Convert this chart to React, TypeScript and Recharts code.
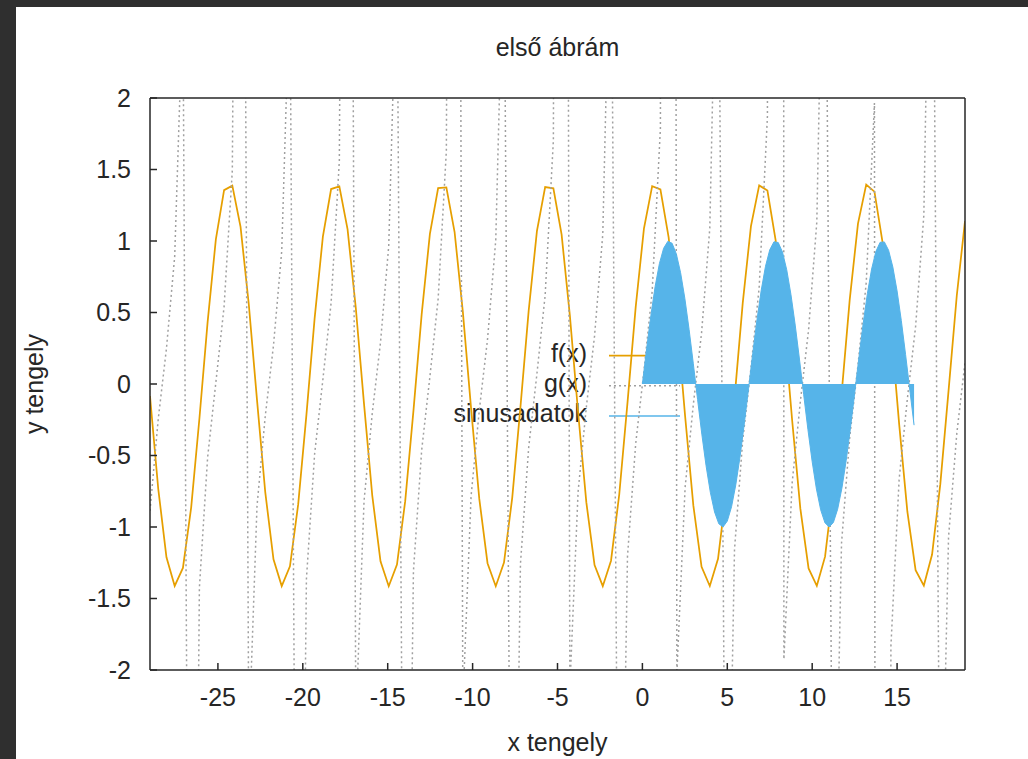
import React from 'react';
import { ComposedChart, Line, Area, XAxis, YAxis } from 'recharts';

// samples of the two functions (100 points over the x range)
const xSamples = [
  -29, -28.5152, -28.0303, -27.5455, -27.0606, -26.5758, -26.0909, -25.6061, -25.1212, -24.6364,
  -24.1515, -23.6667, -23.1818, -22.697, -22.2121, -21.7273, -21.2424, -20.7576, -20.2727, -19.7879,
  -19.303, -18.8182, -18.3333, -17.8485, -17.3636, -16.8788, -16.3939, -15.9091, -15.4242, -14.9394,
  -14.4545, -13.9697, -13.4848, -13, -12.5152, -12.0303, -11.5455, -11.0606, -10.5758, -10.0909,
  -9.6061, -9.1212, -8.6364, -8.1515, -7.6667, -7.1818, -6.697, -6.2121, -5.7273, -5.2424,
  -4.7576, -4.2727, -3.7879, -3.303, -2.8182, -2.3333, -1.8485, -1.3636, -0.8788, -0.3939,
  0.0909, 0.5758, 1.0606, 1.5455, 2.0303, 2.5152, 3, 3.4848, 3.9697, 4.4545,
  4.9394, 5.4242, 5.9091, 6.3939, 6.8788, 7.3636, 7.8485, 8.3333, 8.8182, 9.303,
  9.7879, 10.2727, 10.7576, 11.2424, 11.7273, 12.2121, 12.697, 13.1818, 13.6667, 14.1515,
  14.6364, 15.1212, 15.6061, 16.0909, 16.5758, 17.0606, 17.5455, 18.0303, 18.5152, 19,
];

const fValues = [
  -0.0844, -0.7327, -1.212, -1.412, -1.2865, -0.8644, -0.2432, 0.4342, 1.0114, 1.3556, 1.3872, 1.099, 0.5576,
  -0.1123, -0.7565, -1.2262, -1.4133, -1.2746, -0.842, -0.2155, 0.4609, 1.0309, 1.3633, 1.3815, 1.0812, 0.5317,
  -0.1403, -0.7801, -1.2399, -1.414, -1.2622, -0.8193, -0.1877, 0.4873, 1.0499, 1.3705, 1.3752, 1.0629, 0.5056,
  -0.1682, -0.8034, -1.2532, -1.4142, -1.2493, -0.7962, -0.1599, 0.5136, 1.0685, 1.3772, 1.3684, 1.0441, 0.4793,
  -0.1961, -0.8264, -1.266, -1.4138, -1.2358, -0.7728, -0.1319, 0.5397, 1.0867, 1.3833, 1.361, 1.0249, 0.4527,
  -0.2238, -0.8491, -1.2783, -1.4129, -1.2219, -0.7491, -0.104, 0.5656, 1.1045, 1.3889, 1.3531, 1.0053, 0.4259,
  -0.2514, -0.8715, -1.2901, -1.4114, -1.2075, -0.725, -0.076, 0.5914, 1.1219, 1.394, 1.3447, 0.9853, 0.3989,
  -0.279, -0.8931, -1.3015, -1.4094, -1.1925, -0.7006, -0.0479, 0.617, 1.1386,
];

const gValues = [
  -0.8871, -0.2457, 0.249, 0.8927, 2.6803, -7.788, -1.4232, -0.5123, 0.0114, 0.5415, 1.4946, 9.507, -2.5036,
  -0.8524, -0.2248, 0.2701, 0.929, 2.8515, -6.73, -1.365, -0.4875, 0.0312, 0.5674, 1.5605, 11.737, -2.3666,
  -0.8186, -0.204, 0.2916, 0.9668, 3.0441, -5.918, -1.3094, -0.4631, 0.0511, 0.594, 1.631, 15.34, -2.2411,
  -0.7862, -0.1834, 0.3132, 1.0057, 3.2604, -5.279, -1.2571, -0.4443, 0.071, 0.6207, 1.706, 22.06, -2.1271,
  -0.7544, -0.1629, 0.3351, 1.0467, 3.508, -4.759, -1.207, -0.4157, 0.091, 0.6486, 1.7865, 39.37, -2.0214,
  -0.7238, -0.1427, 0.3573, 1.0891, 3.7912, -4.331, -1.1594, -0.3927, 0.1111, 0.6775, 1.8726, 181.8, -1.9246,
  -0.694, -0.1225, 0.3798, 1.1333, 4.1203, -3.97, -1.1141, -0.3705, 0.1311, 0.7068, 1.9652, -70.4, -1.8349,
  -0.6649, -0.1024, 0.4027, 1.1798, 4.51, -3.66, -1.0705, -0.3479, 0.1514,
];

// "sinusadatok" data file
const sinX = [
  0, 0.25, 0.5, 0.75, 1, 1.25, 1.5, 1.75, 2, 2.25, 2.5, 2.75, 3, 3.25, 3.5, 3.75,
  4, 4.25, 4.5, 4.75, 5, 5.25, 5.5, 5.75, 6, 6.25, 6.5, 6.75, 7, 7.25, 7.5, 7.75,
  8, 8.25, 8.5, 8.75, 9, 9.25, 9.5, 9.75, 10, 10.25, 10.5, 10.75, 11, 11.25, 11.5, 11.75,
  12, 12.25, 12.5, 12.75, 13, 13.25, 13.5, 13.75, 14, 14.25, 14.5, 14.75, 15, 15.25, 15.5, 15.75,
  16,
];
const sinY = [
  0, 0.2474, 0.4794, 0.6816, 0.8415, 0.949, 0.9975, 0.984, 0.9093, 0.7781, 0.5985, 0.3817, 0.1411, -0.1082, -0.3508, -0.5716,
  -0.7568, -0.895, -0.9775, -0.9993, -0.9589, -0.8589, -0.7055, -0.5083, -0.2794, -0.0332, 0.2151, 0.45, 0.657, 0.8231, 0.938, 0.9946,
  0.9894, 0.9228, 0.7985, 0.6248, 0.4121, 0.1743, -0.0752, -0.3195, -0.544, -0.7347, -0.8797, -0.97, -1, -0.9678, -0.8755, -0.7287,
  -0.5366, -0.3112, -0.0663, 0.1826, 0.4202, 0.6317, 0.8038, 0.926, 0.9906, 0.9936, 0.9349, 0.818, 0.6503, 0.443, 0.2064, -0.042,
  -0.2879,
];

const xTicks = [-25, -20, -15, -10, -5, 0, 5, 10, 15];
const yTicks = [-2, -1.5, -1, -0.5, 0, 0.5, 1, 1.5, 2];

const ORANGE = '#e69f00';
const BLUE = '#56b4e9';
const GRAY = '#a0a0a0';
const INK = '#262626';
const FONT = '"Liberation Sans", Arial, sans-serif';

const fnData = xSamples.map((x, i) => ({ x, f: fValues[i], g: gValues[i] }));
const sinData = sinX.map((x, i) => ({ x, y: sinY[i] }));

export default function App() {
  const tickStyle = { fill: INK, fontSize: 25, fontFamily: FONT };
  const axisLine = { stroke: INK, strokeWidth: 1.5 };

  return (
    <div style={{ position: 'absolute', left: 0, top: 0, width: 1028, height: 759, background: '#2f2f2f', overflow: 'hidden' }}>
      <div style={{ position: 'absolute', left: 16, top: 7, width: 1012, height: 752, background: '#fff' }}>
        {/* texts + key, under the plot like gnuplot does */}
        <svg width={1012} height={752} style={{ position: 'absolute', left: 0, top: 0 }} fontFamily={FONT} fontSize={25} fill={INK}>
          <text x={541.5} y={49} textAnchor="middle">első ábrám</text>
          <text x={541.5} y={744} textAnchor="middle">x tengely</text>
          <text x={27} y={377} textAnchor="middle" transform="rotate(-90 27 377)">y tengely</text>

          <text x={571} y={355} textAnchor="end">f(x)</text>
          <line x1={593} x2={664} y1={348.7} y2={348.7} stroke={ORANGE} strokeWidth={1.75} />
          <text x={571} y={385} textAnchor="end">g(x)</text>
          <line x1={593} x2={664} y1={378.7} y2={378.7} stroke={GRAY} strokeWidth={1.5} strokeDasharray="2 3" />
          <text x={571} y={415} textAnchor="end">sinusadatok</text>
          <line x1={593} x2={664} y1={409} y2={409} stroke={BLUE} strokeWidth={1.5} />
        </svg>

        <div style={{ position: 'absolute', left: 0, top: 0 }}>
          <ComposedChart width={1012} height={752} margin={{ top: 90, right: 62, bottom: 29, left: 54 }}>
            <XAxis
              dataKey="x"
              type="number"
              domain={[-29, 19]}
              allowDataOverflow
              ticks={xTicks}
              interval={0}
              height={60}
              axisLine={axisLine}
              tickLine={axisLine}
              tickSize={-7}
              tickMargin={25}
              tick={tickStyle}
            />
            <XAxis
              xAxisId="top"
              orientation="top"
              type="number"
              domain={[-29, 19]}
              ticks={xTicks}
              interval={0}
              height={1}
              axisLine={axisLine}
              tickLine={axisLine}
              tickSize={-7}
              tick={false}
            />
            <YAxis
              type="number"
              domain={[-2, 2]}
              allowDataOverflow
              ticks={yTicks}
              interval={0}
              width={80}
              axisLine={axisLine}
              tickLine={axisLine}
              tickSize={-7}
              tickMargin={26}
              tick={tickStyle}
            />
            <YAxis
              yAxisId="right"
              orientation="right"
              type="number"
              domain={[-2, 2]}
              ticks={yTicks}
              interval={0}
              width={1}
              axisLine={axisLine}
              tickLine={axisLine}
              tickSize={-7}
              tick={false}
            />
            <Line
              data={fnData}
              dataKey="f"
              type="linear"
              stroke={ORANGE}
              strokeWidth={1.75}
              dot={false}
              activeDot={false}
              isAnimationActive={false}
              zIndex={300}
            />
            <Line
              data={fnData}
              dataKey="g"
              type="linear"
              stroke={GRAY}
              strokeWidth={1.5}
              strokeDasharray="2 3"
              dot={false}
              activeDot={false}
              isAnimationActive={false}
              zIndex={310}
            />
            <Area
              data={sinData}
              dataKey="y"
              type="linear"
              baseValue={0}
              stroke={BLUE}
              strokeWidth={1}
              fill={BLUE}
              fillOpacity={1}
              dot={false}
              activeDot={false}
              isAnimationActive={false}
              zIndex={900}
            />
          </ComposedChart>
        </div>
      </div>
    </div>
  );
}
